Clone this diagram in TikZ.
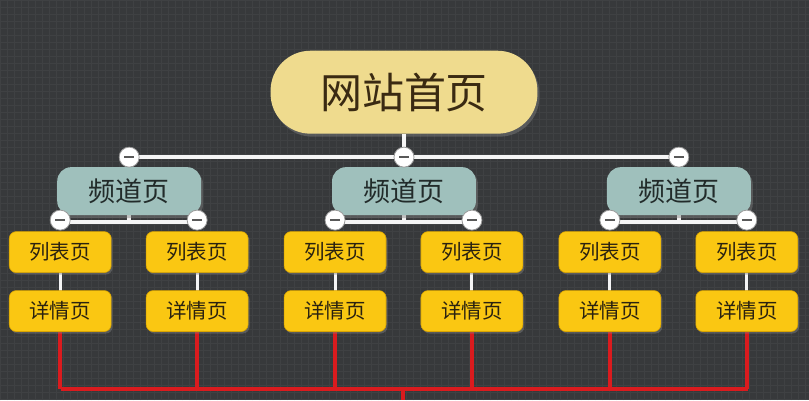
\documentclass[tikz,border=0pt]{standalone}
\usepackage{fontspec}
\newfontfamily\cjk{Noto Sans CJK SC}
\usetikzlibrary{shadows}
\definecolor{bg}{HTML}{37393B}
\definecolor{gridc}{HTML}{3F4143}
\definecolor{homefill}{HTML}{EFDB8E}
\definecolor{hometext}{HTML}{3A2A12}
\definecolor{chfill}{HTML}{9FC0BC}
\definecolor{chtext}{HTML}{222B2A}
\definecolor{leaffill}{HTML}{FAC712}
\definecolor{leafedge}{HTML}{D9A400}
\definecolor{leaftext}{HTML}{2A2210}
\definecolor{redline}{HTML}{DA1B1E}
\definecolor{togedge}{HTML}{9A9A9A}
\tikzset{
  homebox/.style={draw=none, fill=homefill, rounded corners=40pt, minimum width=267pt, minimum height=83pt,
    font=\cjk\fontsize{42}{46}\selectfont, text=hometext, inner sep=0pt,
    drop shadow={shadow xshift=2pt, shadow yshift=-3pt, opacity=0.45}},
  chbox/.style={draw=none, fill=chfill, rounded corners=14pt, minimum width=144pt, minimum height=48pt,
    font=\cjk\fontsize{27}{30}\selectfont, text=chtext, inner sep=0pt,
    drop shadow={shadow xshift=2pt, shadow yshift=-3pt, opacity=0.45}},
  leafbox/.style={draw=leafedge, line width=0.6pt, fill=leaffill, rounded corners=7pt, minimum width=102pt, minimum height=41pt,
    font=\cjk\fontsize{20.5}{24}\selectfont, text=leaftext, inner sep=0pt,
    drop shadow={shadow xshift=1.5pt, shadow yshift=-2pt, opacity=0.45}},
  wline/.style={draw=white!92!gray, line width=4pt},
  wthin/.style={draw=white!92!gray, line width=3pt},
  rline/.style={draw=redline, line width=4.5pt},
  toggle/.style={circle, draw=togedge, line width=0.8pt, fill=white, minimum size=20pt, inner sep=0pt,
    path picture={\draw[line width=1.6pt, draw=black!65] ([xshift=-5pt]path picture bounding box.center) -- ([xshift=5pt]path picture bounding box.center);}}
}
\begin{document}
\begin{tikzpicture}[x=1pt,y=-1pt]
\fill[bg] (0,0) rectangle (809,400);
\draw[gridc, line width=0.5pt, step=7pt] (0,0) grid (809,400);
\useasboundingbox (0,0) rectangle (809,400);

% coordinates
\coordinate (hb) at (404,157);
\coordinate (hl) at (129,157);
\coordinate (hr) at (679,157);
\coordinate (rb) at (403,389);
\coordinate (rbot) at (403,400);

% red lines (behind)
\draw[rline] (61,389) -- (748,389);
\draw[rline] (rb) -- (rbot);

% top white connector
\draw[wline] (hl) -- (hr);

\node[homebox] (home) at (404,92) {网站首页};
\draw[wline] (home.south) -- (hb);

\foreach \i/\cx in {1/129, 2/404, 3/679} {
  \coordinate (j\i) at (\cx,222);
  \coordinate (la\i) at ({\cx-69},222);
  \coordinate (lb\i) at ({\cx+68},222);
  \draw[wline] (\cx,157) -- (\cx,170);
  \draw[wline] (\cx,210) -- (j\i);
  \draw[wline] (la\i) -- (lb\i);
  \draw[wthin] ({\cx-69},260) -- ({\cx-69},300);
  \draw[wthin] ({\cx+68},260) -- ({\cx+68},300);
  \draw[rline] ({\cx-69},320) -- ({\cx-69},389);
  \draw[rline] ({\cx+68},320) -- ({\cx+68},389);
  \node[chbox] (c\i) at (\cx,191) {频道页};
  \node[leafbox] (a\i) at ({\cx-69},252) {列表页};
  \node[leafbox] (b\i) at ({\cx+68},252) {列表页};
  \node[leafbox] (d\i) at ({\cx-69},311) {详情页};
  \node[leafbox] (e\i) at ({\cx+68},311) {详情页};
  \node[toggle] (t\i) at (\cx,157) {};
  \node[toggle] (ta\i) at ({\cx-69},220) {};
  \node[toggle] (tb\i) at ({\cx+68},220) {};
}
\end{tikzpicture}
\end{document}
